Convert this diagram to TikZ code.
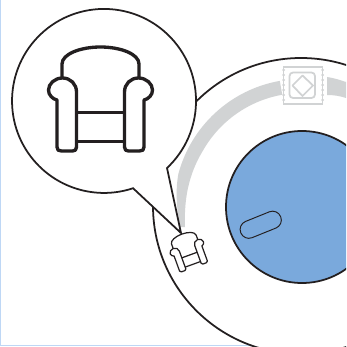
\documentclass[tikz,border=0pt]{standalone}
\usepackage{tikz}
\definecolor{InkDark}{RGB}{35,31,32}
\definecolor{DiskBlue}{RGB}{122,169,220}
\definecolor{RingGray}{RGB}{209,211,212}
\definecolor{EdgeBlue}{RGB}{190,215,245}
\tikzset{
  outline/.style={draw=InkDark,line width=1pt},
  ringband/.style={draw=none,fill=RingGray},
  stampline/.style={draw=RingGray,line width=1pt,fill=white},
  pics/armchair/.style={code={
    \draw[draw=InkDark,fill=white,line width=#1,line join=round]
      (-38.5,-20) -- (-38.5,-36) .. controls (-38.5,-46) and (-20,-53) .. (0,-53)
      .. controls (20,-53) and (38.5,-46) .. (38.5,-36) -- (38.5,-20);
    \draw[draw=InkDark,line width=#1] (-25,12.7) -- (25,12.7) (-25,41.7) -- (25,41.7);
    \foreach \s in {-1,1}{
      \draw[draw=InkDark,fill=white,line width=#1,line join=round,xscale=\s]
        (-24,47) -- (-24,-8) .. controls (-24,-16) and (-30,-22) .. (-38,-22)
        .. controls (-46,-22) and (-52,-16) .. (-52,-10)
        .. controls (-52,-5) and (-48,-1) .. (-43.5,0)
        -- (-43.5,47) .. controls (-43.5,50) and (-42,51) .. (-39,51)
        -- (-28,51) .. controls (-25.5,51) and (-24,50) .. (-24,47) -- cycle;}
  }}
}
\begin{document}
\begin{tikzpicture}[x=0.02cm,y=-0.02cm]
  \useasboundingbox (0,0) rectangle (346,347);
  \clip (0,0) rectangle (346,347);
  \fill[white] (0,0) rectangle (346,347);
  \fill[EdgeBlue] (0,0) rectangle (1.4,345);
  \fill[EdgeBlue] (0,345) rectangle (346,346.2);
  % body
  \draw[outline,fill=white] (301,206) circle[radius=148];
  % gray band
  \fill[ringband] (279.8,80.9) arc[start angle=-100,end angle=-165,radius=128]
    .. controls (175,192) and (177,210) .. (180,227) -- (185,227)
    .. controls (184,200) and (188,175) .. (203.3,150)
    arc[start angle=-150,end angle=-100,radius=114] -- cycle;
  \fill[ringband] (327,77) .. controls (334,78) and (340,80) .. (346,82)
    -- (346,98) .. controls (340,96) and (334,95) .. (327,95) -- cycle;
  % stamp
  \draw[stampline] (283.5,67) rectangle (322.5,104);
  \foreach \y in {70,75,...,100}{
    \fill[RingGray] (283.5,\y) circle[radius=1.5] (322.5,\y) circle[radius=1.5];}
  \draw[stampline,rounded corners=2pt] (289.5,72.5) rectangle (315,98);
  \draw[stampline,line join=round] (302.5,75.5) -- (313,85.5) -- (302.5,96) -- (292.5,85.5) -- cycle;
  % disk
  \draw[outline,fill=DiskBlue] (302,207) circle[radius=76];
  \draw[draw=InkDark,line width=0.55pt,rotate around={22:(260.7,224.7)},rounded corners=4.9pt]
    (239.2,216) rectangle (282.2,233.5);
  % bubble
  \draw[outline,fill=white,line join=miter]
    (167,168) arc[start angle=46.8,end angle=-288.4,radius=92] -- (181,233) -- cycle;
  % small chair
  \pic[scale=0.34,rotate=20] at (188,251) {armchair=0.7pt};
  % big chair
  \pic at (100.5,100) {armchair=1.9pt};
\end{tikzpicture}
\end{document}
